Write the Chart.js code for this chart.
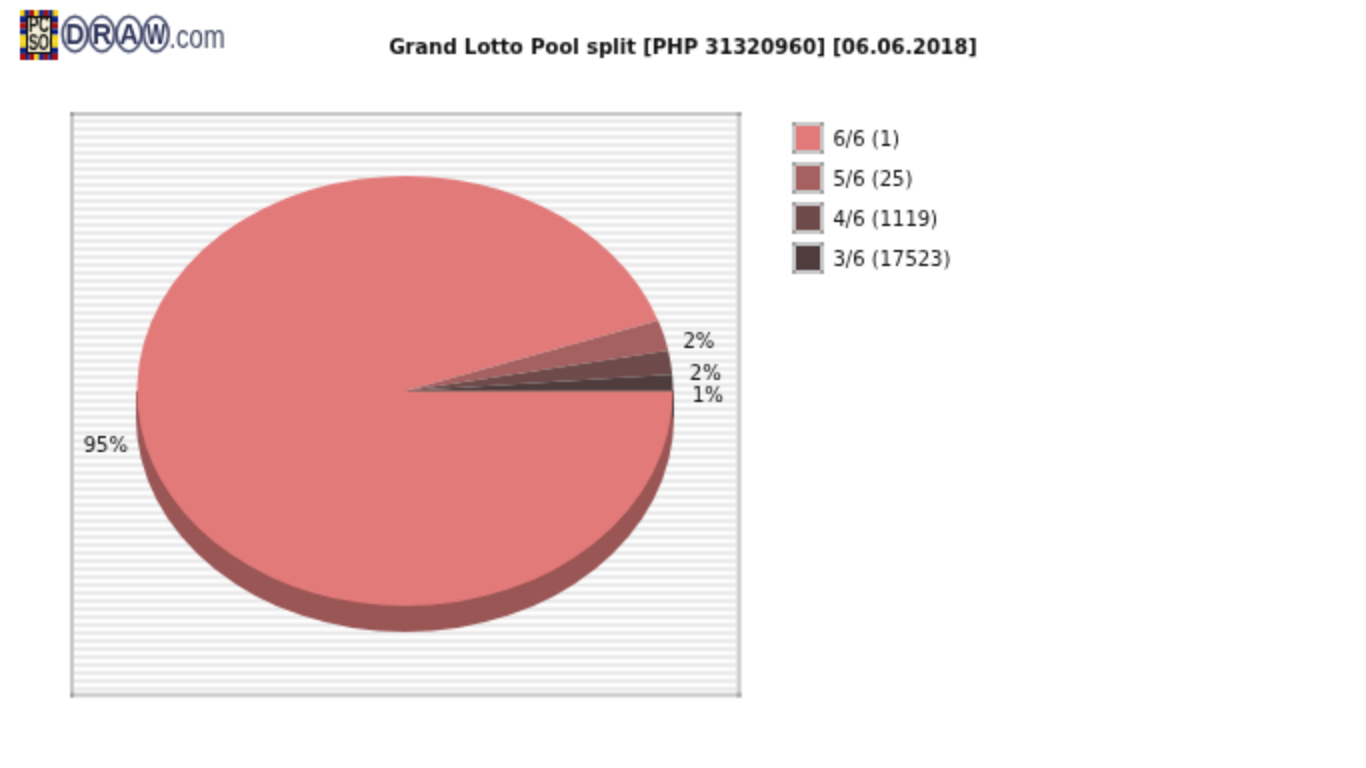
<!DOCTYPE html>
<html>
<head>
<meta charset="utf-8">
<title>Grand Lotto Pool split</title>
<script src="https://cdn.jsdelivr.net/npm/chart.js@4"></script>
<style>
    html, body { margin: 0; padding: 0; background: #fff; overflow: hidden; }
    canvas { display: block; }
</style>
</head>
<body>
<canvas id="poolChart" width="1366" height="768"></canvas>
<script>
const titleText = 'Grand Lotto Pool split [PHP 31320960] [06.06.2018]';
const categories = ['6/6 (1)', '5/6 (25)', '4/6 (1119)', '3/6 (17523)'];
const poolShare = [94.67, 2.3, 1.8, 1.23];
const percentLabels = ['95%', '2%', '2%', '1%'];
const sliceColors = ['#e27a7a', '#a56060', '#6e4a4a', '#4f3d3d'];
const labelDrop = [19, 8, 13, 14];
const logoBorder = ['#f7d417', '#0c1f86', '#a80f14', '#f7d417', '#0c1f86', '#a80f14', '#0c1f86', '#f7d417'];

const squash = 215 / 268;
const depth = 26;
const fontName = '"DejaVu Sans"';

//---------------------------------
//Start logo
function drawLogo(ctx) {
    ctx.save();
    const step = 38 / logoBorder.length;
    logoBorder.forEach((color, i) => {
        ctx.fillStyle = color;
        ctx.fillRect(20 + i * step, 10, step, 6);
        ctx.fillRect(20 + i * step, 54, step, 6);
        ctx.fillStyle = logoBorder[(i + 3) % logoBorder.length];
        ctx.fillRect(20, 10 + i * 50 / logoBorder.length, 6, 50 / logoBorder.length);
        ctx.fillRect(52, 10 + i * 50 / logoBorder.length, 6, 50 / logoBorder.length);
    });
    ctx.fillStyle = '#111';
    ctx.fillRect(26, 16, 26, 38);
    ctx.fillStyle = '#f4efd6';
    ctx.fillRect(28, 18, 22, 34);

    ctx.fillStyle = '#111';
    ctx.textAlign = 'center';
    ctx.textBaseline = 'middle';
    ctx.font = 'bold 20px "Liberation Sans"';
    ctx.fillText('PC', 39, 27, 21);
    ctx.fillText('SO', 39, 44, 21);

    ['D', 'R', 'A', 'W'].forEach((letter, i) => {
        const x = 75 + i * 27;
        ctx.strokeStyle = '#4a5070';
        ctx.lineWidth = 3;
        ctx.beginPath();
        ctx.ellipse(x, 34, 12.5, 17.5, 0, 0, Math.PI * 2);
        ctx.stroke();
        ctx.fillStyle = '#2c3258';
        ctx.font = 'bold 30px "Liberation Sans"';
        ctx.fillText(letter, x, 35, 19);
    });
    ctx.fillStyle = '#3e465e';
    ctx.textAlign = 'left';
    ctx.textBaseline = 'alphabetic';
    ctx.font = '32px "Liberation Sans"';
    ctx.fillText('.com', 169, 47, 56);
    ctx.restore();
}
//End logo
//---------------------------------

const pagePlugin = {
    id: 'pagePlugin',
    beforeDraw(chart) {
        const ctx = chart.ctx;
        ctx.save();
        ctx.fillStyle = '#fff';
        ctx.fillRect(0, 0, chart.width, chart.height);

        //frame + stripes
        const stripes = ['#ffffff', '#f4f4f4', '#e8e8e8', '#f4f4f4'];
        for (let y = 116; y < 693; y += 2) {
            ctx.fillStyle = stripes[((y - 116) / 2) % 4];
            ctx.fillRect(74, y, 663, 2);
        }
        ctx.fillStyle = '#c8c8c8';
        ctx.fillRect(70, 112, 671, 4);
        ctx.fillRect(70, 693, 671, 4);
        ctx.fillRect(70, 112, 4, 585);
        ctx.fillRect(737, 112, 4, 585);
        ctx.fillStyle = '#a0a0a0';
        [[70, 112], [737, 112], [70, 693], [737, 693]].forEach((p) => ctx.fillRect(p[0], p[1], 4, 4));
        ctx.restore();

        drawLogo(ctx);
    },
    beforeDatasetsDraw(chart) {
        const ctx = chart.ctx;
        const arc = chart.getDatasetMeta(0).data[0];
        const cx = arc.x, cy = arc.y, rx = arc.outerRadius, ry = rx * squash;

        //side of the pie
        ctx.save();
        ctx.fillStyle = '#9a5555';
        ctx.beginPath();
        ctx.ellipse(cx, cy + depth, rx + 1, ry, 0, 0, Math.PI);
        ctx.lineTo(cx - rx - 1, cy);
        ctx.lineTo(cx + rx + 1, cy);
        ctx.closePath();
        ctx.fill();
        ctx.fillStyle = sliceColors[3];
        ctx.fillRect(cx + rx - 1, cy, 2, depth);
        ctx.restore();

        //squash the library's arcs into an ellipse
        ctx.save();
        ctx.translate(cx, cy);
        ctx.scale(1, squash);
        ctx.translate(-cx, -cy);
    },
    afterDatasetsDraw(chart) {
        const ctx = chart.ctx;
        ctx.restore();

        const arcs = chart.getDatasetMeta(0).data;
        ctx.save();
        ctx.fillStyle = '#111';
        ctx.font = '20px ' + fontName;
        ctx.textAlign = 'center';
        ctx.textBaseline = 'middle';
        arcs.forEach((arc, i) => {
            const mid = (arc.startAngle + arc.endAngle) / 2;
            const dx = Math.cos(mid), dy = Math.sin(mid);
            const x = arc.x + dx * arc.outerRadius + Math.sign(dx) * 35;
            const y = arc.y + dy * arc.outerRadius * squash + labelDrop[i];
            ctx.fillText(percentLabels[i], x, y);
        });

        //legend
        categories.forEach((name, i) => {
            const top = 122 + i * 40;
            ctx.fillStyle = '#c8c8c8';
            ctx.fillRect(792, top, 32, 32);
            ctx.fillStyle = '#a0a0a0';
            [[792, top], [820, top], [792, top + 28], [820, top + 28]].forEach((p) => ctx.fillRect(p[0], p[1], 4, 4));
            ctx.fillStyle = sliceColors[i];
            ctx.fillRect(796, top + 4, 24, 24);
            ctx.fillStyle = '#111';
            ctx.textAlign = 'left';
            ctx.fillText(name, 833, top + 18);
        });
        ctx.restore();
    },
    afterLayout(chart) {
        //title sits in the middle of the page, not of the pie area
        const title = chart.titleBlock;
        title.left = 0;
        title.right = chart.width;
        title.width = chart.width;
    }
};

new Chart(document.getElementById('poolChart'), {
    type: 'pie',
    data: {
        labels: categories,
        datasets: [{
            data: poolShare,
            backgroundColor: sliceColors,
            borderWidth: 0
        }]
    },
    options: {
        responsive: false,
        animation: false,
        devicePixelRatio: 0.5,
        rotation: 90,
        layout: { padding: { left: 137, right: 693, top: 0, bottom: 109 } },
        plugins: {
            legend: { display: false },
            tooltip: { enabled: false },
            title: {
                display: true,
                text: titleText,
                color: '#111',
                font: { family: fontName, size: 20, weight: 'bold' },
                padding: { top: 36, bottom: 63 }
            }
        }
    },
    plugins: [pagePlugin]
});
</script>
</body>
</html>
